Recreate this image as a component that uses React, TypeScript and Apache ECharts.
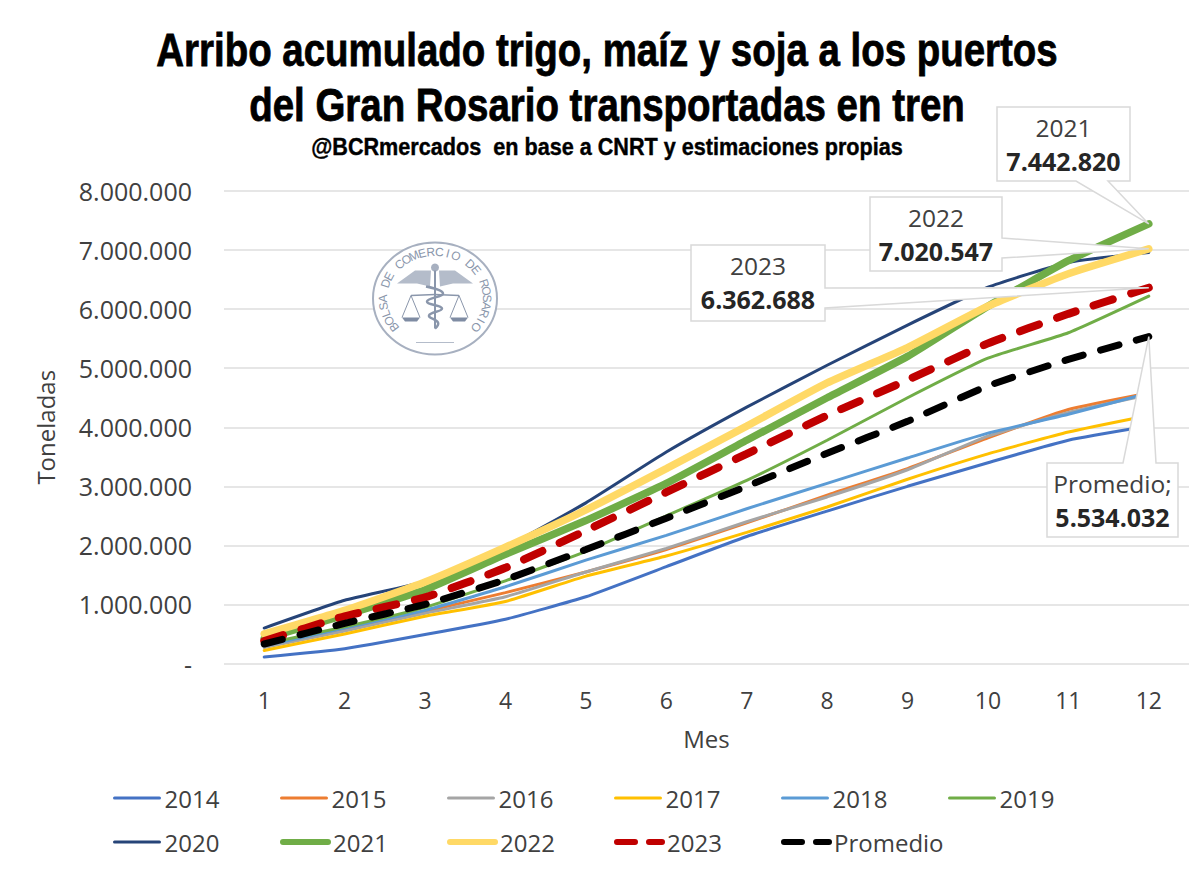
import React, { useEffect, useRef } from "react";
import * as echarts from "echarts";

const months = ["1", "2", "3", "4", "5", "6", "7", "8", "9", "10", "11", "12"];
const s2014 = [110000, 250000, 490000, 750000, 1130000, 1640000, 2150000, 2580000, 3000000, 3400000, 3780000, 4020000];
const s2015 = [300000, 580000, 880000, 1200000, 1550000, 1930000, 2380000, 2850000, 3300000, 3820000, 4300000, 4580000];
const s2016 = [270000, 550000, 850000, 1130000, 1550000, 1950000, 2400000, 2820000, 3280000, 3850000, 4250000, 4550000];
const s2017 = [220000, 500000, 800000, 1050000, 1480000, 1820000, 2220000, 2650000, 3120000, 3550000, 3920000, 4200000];
const s2018 = [300000, 600000, 900000, 1300000, 1750000, 2170000, 2620000, 3050000, 3480000, 3900000, 4220000, 4580000];
const s2019 = [330000, 620000, 950000, 1400000, 1900000, 2500000, 3100000, 3780000, 4500000, 5170000, 5600000, 6220000];
const s2020 = [600000, 1070000, 1390000, 1970000, 2720000, 3580000, 4340000, 5050000, 5730000, 6370000, 6790000, 6960000];
const s2021 = [420000, 820000, 1250000, 1850000, 2420000, 3050000, 3780000, 4500000, 5200000, 6050000, 6820000, 7442820];
const s2022 = [500000, 900000, 1380000, 1970000, 2600000, 3300000, 4020000, 4750000, 5350000, 6050000, 6600000, 7020547];
const s2023 = [380000, 800000, 1120000, 1620000, 2250000, 2900000, 3550000, 4200000, 4800000, 5420000, 5920000, 6362688];
const promedio = [330000, 680000, 1000000, 1420000, 1930000, 2460000, 3000000, 3560000, 4100000, 4700000, 5150000, 5534032];

const uiFont = "'Open Sans', 'Noto Sans', sans-serif";
const titleFont = "'Liberation Sans', sans-serif";
const fmt = (v: number) => (v === 0 ? "-" : String(v).replace(/\B(?=(\d{3})+$)/g, "."));

const seriesDefs: [string, number[], string, number, number[] | null][] = [
  ["2014", s2014, "#4472c4", 3, null],
  ["2015", s2015, "#ed7d31", 3, null],
  ["2016", s2016, "#a5a5a5", 3, null],
  ["2017", s2017, "#ffc000", 3, null],
  ["2018", s2018, "#5b9bd5", 3, null],
  ["2019", s2019, "#70ad47", 3, null],
  ["2020", s2020, "#264478", 3, null],
  ["2021", s2021, "#70ad47", 7.5, null],
  ["2022", s2022, "#ffd966", 7.5, null],
  ["2023", s2023, "#c00000", 8, [20, 19]],
  ["Promedio", promedio, "#000000", 7, [19, 18]],
];

const sealColor = "#8a96ab";

function logoElements() {
  const cx = 435;
  const cy = 298.5;
  const out: any[] = [
    { type: "ellipse", shape: { cx, cy, rx: 62, ry: 56 }, style: { fill: "#fff", stroke: "#a7b0c0", lineWidth: 2 }, z: 1 },
  ];
  const word = "BOLSA DE COMERCIO DE ROSARIO";
  const n = word.length;
  for (let i = 0; i < n; i++) {
    const t = ((-128 + (256 * i) / (n - 1)) * Math.PI) / 180;
    out.push({
      type: "text",
      x: cx + 52 * Math.sin(t),
      y: cy - 46.5 * Math.cos(t),
      rotation: -t,
      z: 1,
      style: { text: word[i], fill: sealColor, font: "12px 'Liberation Sans', sans-serif", align: "center", verticalAlign: "middle" },
    });
  }
  const line = (x1: number, y1: number, x2: number, y2: number, w = 1.4, c = sealColor) => ({
    type: "line",
    z: 1,
    shape: { x1, y1, x2, y2 },
    style: { stroke: c, lineWidth: w },
  });
  for (const d of [-1, 1]) {
    out.push({
      type: "polygon",
      z: 1,
      shape: { points: [[cx + d * 4, cy - 28], [cx + d * 20, cy - 28], [cx + d * 38, cy - 15], [cx + d * 18, cy - 15], [cx + d * 5, cy - 12]] },
      style: { fill: "#b4bcca" },
    });
    out.push(line(cx, cy - 4, cx + d * 24, cy - 3));
    out.push(line(cx + d * 24, cy - 3, cx + d * 15, cy + 19, 1));
    out.push(line(cx + d * 24, cy - 3, cx + d * 33, cy + 19, 1));
    out.push({
      type: "polygon",
      z: 1,
      shape: { points: [[cx + d * 15, cy + 19], [cx + d * 33, cy + 19], [cx + d * 30, cy + 23], [cx + d * 18, cy + 23]] },
      style: { fill: "#7f8ca3" },
    });
  }
  out.push({ type: "circle", z: 1, shape: { cx, cy: cy - 31, r: 4 }, style: { fill: "#a7b0c0" } });
  out.push(line(cx, cy - 28, cx, cy + 30, 2));
  const snake: number[][] = [[cx - 9, cy - 12], [cx + 8, cy - 5], [cx - 8, cy + 3], [cx + 7, cy + 10], [cx - 6, cy + 17], [cx + 3, cy + 24], [cx, cy + 30]];
  out.push({ type: "polyline", z: 1, shape: { points: snake, smooth: 0.5 }, style: { stroke: sealColor, lineWidth: 2.5, fill: "none" } });
  out.push(line(cx - 19, cy + 44, cx + 19, cy + 44, 1, "#b4bcca"));
  return out;
}

function callout(
  box: [number, number, number, number],
  base: [number, number][],
  insertAt: number,
  tip: number[],
  name: string,
  value: number,
  z: number
) {
  const [x0, y0, x1, y1] = box;
  const corners: number[][] = [[x0, y0], [x1, y0], [x1, y1], [x0, y1]];
  const pts: number[][] = [...corners.slice(0, insertAt), base[0], tip, base[1], ...corners.slice(insertAt)];
  const cx = (x0 + x1) / 2;
  return [
    { type: "polygon", z, shape: { points: pts }, style: { fill: "#fff", stroke: "#d9d9d9", lineWidth: 1.5 } },
    { type: "text", z, x: cx, y: y0 + 20, style: { text: name, fill: "#404040", font: `24.5px ${uiFont}`, align: "center", verticalAlign: "middle" } },
    { type: "text", z, x: cx, y: y0 + 54, style: { text: fmt(value), fill: "#262626", font: `bold 25px ${uiFont}`, align: "center", verticalAlign: "middle" } },
  ];
}

function headingElements() {
  const make = (text: string, y: number, size: number, sx: number, stroke: number) => ({
    type: "text",
    x: 607,
    y,
    scaleX: sx,
    z: 5,
    style: {
      text,
      fill: "#000",
      stroke: "#000",
      lineWidth: stroke,
      font: `bold ${size}px ${titleFont}`,
      align: "center",
      verticalAlign: "middle",
    },
  });
  return [
    make("Arribo acumulado trigo, maíz y soja a los puertos", 50, 46, 0.836, 0.8),
    make("del Gran Rosario transportadas en tren", 105, 46, 0.836, 0.8),
    make("@BCRmercados  en base a CNRT y estimaciones propias", 147, 23, 0.94, 0.4),
  ];
}

export default function App() {
  const ref = useRef<HTMLDivElement>(null);
  useEffect(() => {
    const chart = echarts.init(ref.current!, undefined, { renderer: "svg" });
    const legendCol = 167;
    const legends = seriesDefs.map(([name, , color, width, dash], i) => {
      const thick = width > 3;
      return {
        left: 108 + (i % 6) * legendCol,
        top: i < 6 ? 781 : 825,
        itemWidth: 45,
        itemHeight: 10,
        itemGap: 0,
        data: [{ name }],
        itemStyle: { opacity: 0 },
        lineStyle: {
          width: thick ? 6 : 3,
          color,
          cap: "round",
          type: dash ? [18, 14] : "solid",
        },
        textStyle: { fontFamily: uiFont, fontSize: 24, color: "#404040", padding: [0, 0, 0, 0] },
      };
    });
    chart.setOption({
      animation: false,
      backgroundColor: "#fff",
      grid: { left: 224, right: 12, top: 191, bottom: 207.5 },
      legend: legends,
      xAxis: {
        type: "category",
        data: months,
        name: "Mes",
        nameLocation: "middle",
        nameGap: 63,
        nameTextStyle: { fontFamily: uiFont, fontSize: 24, color: "#404040" },
        axisLine: { show: false },
        axisTick: { show: false },
        axisLabel: { fontFamily: uiFont, fontSize: 23, color: "#404040", margin: 25 },
      },
      yAxis: {
        type: "value",
        min: 0,
        max: 8000000,
        interval: 1000000,
        name: "Toneladas",
        nameLocation: "middle",
        nameGap: 167,
        nameTextStyle: { fontFamily: uiFont, fontSize: 24, color: "#404040" },
        axisLine: { show: false },
        axisTick: { show: false },
        axisLabel: { fontFamily: uiFont, fontSize: 25, color: "#404040", margin: 32, formatter: fmt },
        splitLine: { lineStyle: { color: "#e6e6e6", width: 2 } },
      },
      series: seriesDefs.map(([name, data, color, width, dash]) => ({
        name,
        type: "line",
        data,
        smooth: 0.15,
        showSymbol: false,
        symbol: "none",
        lineStyle: { color, width, cap: "round", type: dash || "solid" },
        itemStyle: { color },
      })),
    });

    const tip = (d: number[]) => chart.convertToPixel({ seriesIndex: 0 }, ["12", d[11]]) as number[];
    chart.setOption({
      graphic: {
        elements: [
          ...headingElements(),
          ...logoElements(),
          ...callout([997, 107, 1130, 181], [[1108, 181], [1076, 181]], 3, tip(s2021), "2021", s2021[11], 20),
          ...callout([870, 197, 1002, 271], [[1002, 238], [1002, 258]], 2, tip(s2022), "2022", s2022[11], 21),
          ...callout([691, 245, 825, 321], [[825, 288], [825, 308]], 2, tip(s2023), "2023", s2023[11], 22),
          ...callout([1047, 463, 1178, 537], [[1123, 463], [1156, 463]], 1, tip(promedio), "Promedio;", promedio[11], 23),
        ],
      },
    });
    return () => chart.dispose();
  }, []);
  return <div ref={ref} style={{ position: "absolute", left: 0, top: 0, width: 1201, height: 871 }} />;
}
